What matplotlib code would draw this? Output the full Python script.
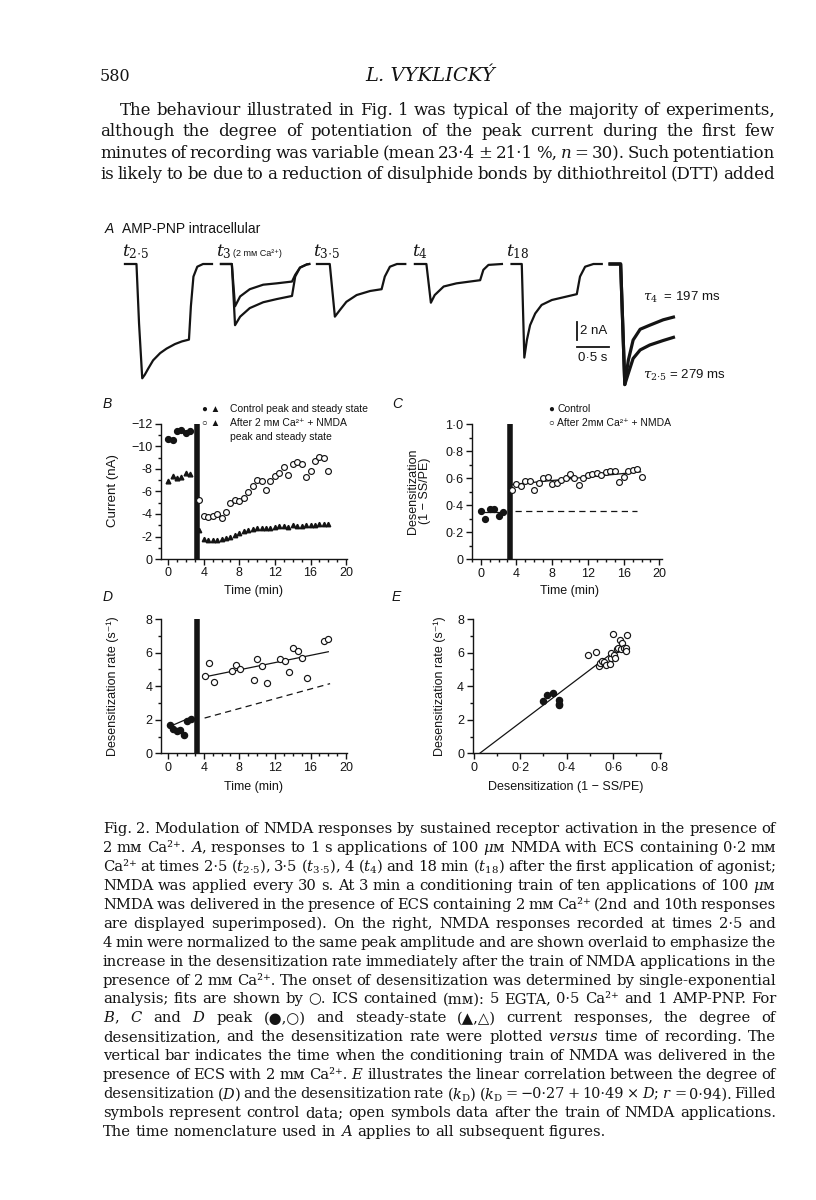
import matplotlib
matplotlib.use("Agg")
import matplotlib.pyplot as plt
from matplotlib.ticker import MultipleLocator, FixedLocator, FixedFormatter

plt.rcParams["font.family"] = ["Liberation Sans", "DejaVu Sans"]
plt.rcParams["mathtext.fontset"] = "dejavuserif"
SERIF = ["DejaVu Serif", "DejaVu Sans"]
INK = "#141414"

# ---------------- data ----------------
# panel A: digitised current traces (time in s along the strip, current in nA)
tr25_t = [0.39, 0.57, 0.61, 0.66, 0.70, 0.755, 0.83, 0.94, 1.04, 1.17, 1.28, 1.39, 1.42, 1.46, 1.52, 1.61, 1.75]
tr25_i = [0, 0, -6.6, -12.7, -12.3, -11.6, -10.7, -9.9, -9.4, -8.9, -8.6, -8.4, -4.7, -1.4, -0.3, 0, 0]
tr3_t = [1.89, 2.06, 2.11, 2.19, 2.34, 2.55, 2.76, 3.00, 3.05, 3.125, 3.23, 3.27]
tr3_10th_i = [0, 0, -4.7, -3.6, -2.8, -2.3, -2.15, -1.95, -1.2, -0.4, -0.05, 0]
tr3_2nd_i = [0, 0, -6.8, -5.85, -4.9, -4.25, -3.9, -3.55, -1.4, -0.4, -0.05, 0]
tr35_t = [3.39, 3.59, 3.67, 3.75, 3.85, 4.01, 4.22, 4.40, 4.45, 4.53, 4.64, 4.77]
tr35_i = [0, 0, -5.85, -5.1, -4.2, -3.45, -3.0, -2.8, -1.4, -0.3, 0, 0]
tr4_t = [4.92, 5.10, 5.17, 5.23, 5.37, 5.57, 5.78, 5.94, 5.99, 6.07, 6.28]
tr4_i = [0, 0, -4.3, -3.45, -2.5, -2.15, -1.95, -1.8, -0.65, -0.1, 0]
tr18_t = [6.43, 6.59, 6.63, 6.67, 6.72, 6.80, 6.90, 7.06, 7.27, 7.45, 7.50, 7.58, 7.71, 7.84]
tr18_i = [0, 0, -10.4, -8.45, -6.8, -5.5, -4.55, -4.0, -3.65, -3.35, -1.4, -0.3, 0, 0]
ov_t = [7.97, 8.135, 8.20, 8.255, 8.33, 8.44, 8.59, 8.80, 8.96]
ov4_i = [0, 0, -13.4, -10.7, -8.45, -7.25, -6.8, -6.2, -5.9]
ov25_i = [0, 0, -13.4, -12.15, -10.5, -9.55, -9.0, -8.5, -8.15]
bar_nA = 2.0
bar_s = 0.5

# panels B-D: time of recording (min)
bar_t = 3.3
t_ctrl = [0, 0.5, 1.0, 1.5, 2.0, 2.5]
t_after = [3.5, 4.0, 4.5, 5.0, 5.5, 6.0, 6.5, 7.0, 7.5, 8.0, 8.5, 9.0, 9.5, 10.0, 10.5,
           11.0, 11.5, 12.0, 12.5, 13.0, 13.5, 14.0, 14.5, 15.0, 15.5, 16.0, 16.5, 17.0, 17.5, 18.0]

# B: current (nA)
b_peak_ctrl = [-10.7, -10.6, -11.4, -11.5, -11.2, -11.4]
b_ss_ctrl = [-6.9, -7.35, -7.2, -7.25, -7.6, -7.55]
b_peak_after = [-5.2, -3.8, -3.7, -3.85, -4.0, -3.65, -4.15, -5.0, -5.25, -5.15, -5.45, -5.95, -6.45, -7.05, -6.9,
                -6.15, -6.9, -7.35, -7.65, -8.15, -7.5, -8.4, -8.6, -8.45, -7.25, -7.85, -8.75, -9.05, -9.0, -7.85]
b_ss_after = [-2.6, -1.75, -1.7, -1.65, -1.7, -1.8, -1.85, -2.0, -2.15, -2.3, -2.45, -2.55, -2.65, -2.75, -2.8,
              -2.8, -2.8, -2.85, -2.9, -2.95, -2.85, -3.0, -2.95, -2.95, -3.05, -3.05, -3.05, -3.1, -3.1, -3.1]

# C: desensitization (1 - SS/PE)
c_ctrl = [0.36, 0.30, 0.37, 0.37, 0.32, 0.35]
c_after = [0.51, 0.555, 0.54, 0.58, 0.58, 0.51, 0.565, 0.605, 0.61, 0.555, 0.565, 0.59, 0.60, 0.63, 0.605,
           0.55, 0.605, 0.625, 0.63, 0.64, 0.625, 0.645, 0.655, 0.655, 0.57, 0.61, 0.655, 0.66, 0.67, 0.61]
c_fit_ctrl_t, c_fit_ctrl_v = [0.0, 2.6], [0.35, 0.35]
c_fit_after_t, c_fit_after_v = [3.6, 17.9], [0.555, 0.648]
c_dash_t, c_dash_v = [3.8, 17.5], [0.36, 0.36]

# D: desensitization rate (s-1)
d_t_ctrl = [0.25, 0.6, 0.95, 1.3, 1.75, 2.15, 2.6]
d_ctrl = [1.7, 1.45, 1.35, 1.4, 1.1, 1.95, 2.05]
d_t_after = [4.1, 4.6, 5.15, 7.15, 7.6, 8.1, 9.65, 10.0, 10.6, 11.1, 12.6, 13.1, 13.6, 14.0, 14.55, 15.0, 15.6, 17.5, 18.0]
d_after = [4.6, 5.35, 4.25, 4.9, 5.25, 5.05, 4.35, 5.6, 5.2, 4.2, 5.6, 5.5, 4.85, 6.25, 6.1, 5.7, 4.5, 6.7, 6.8]
d_fit_ctrl_t, d_fit_ctrl_v = [0.2, 2.6], [1.6, 2.15]
d_fit_after_t, d_fit_after_v = [4.1, 18.0], [4.55, 6.05]
d_dash_t, d_dash_v = [4.1, 18.2], [2.1, 4.15]

# E: rate vs desensitization
e_x_ctrl = [0.30, 0.315, 0.34, 0.365, 0.365, 0.365]
e_y_ctrl = [3.1, 3.45, 3.6, 3.15, 2.95, 2.85]
e_x_after = [0.49, 0.525, 0.54, 0.545, 0.55, 0.56, 0.57, 0.585, 0.59, 0.59, 0.60,
             0.605, 0.61, 0.615, 0.62, 0.63, 0.635, 0.64, 0.645, 0.655, 0.66, 0.655]
e_y_after = [5.85, 6.05, 5.2, 5.4, 5.5, 5.45, 5.25, 5.3, 5.7, 5.95, 7.1,
             5.85, 5.7, 6.2, 6.25, 6.75, 6.2, 6.55, 6.3, 6.3, 7.05, 6.1]
e_fit_x, e_fit_y = [0.026, 0.60], [0.0, 6.02]

# page text
header_num = "580"
header_author = "L. VYKLICKÝ"
body_lines = [
    "The behaviour illustrated in Fig. 1 was typical of the majority of experiments,",
    "although the degree of potentiation of the peak current during the first few",
    "minutes of recording was variable (mean 23·4 ± 21·1 %, $n$ = 30). Such potentiation",
    "is likely to be due to a reduction of disulphide bonds by dithiothreitol (DTT) added",
]
caption_lines = [
    "Fig. 2. Modulation of NMDA responses by sustained receptor activation in the presence of",
    "2 mᴍ Ca²⁺. $A$, responses to 1 s applications of 100 $\\mu$ᴍ NMDA with ECS containing 0·2 mᴍ",
    "Ca²⁺ at times 2·5 ($t_{2{\\cdot}5}$), 3·5 ($t_{3{\\cdot}5}$), 4 ($t_4$) and 18 min ($t_{18}$) after the first application of agonist;",
    "NMDA was applied every 30 s. At 3 min a conditioning train of ten applications of 100 $\\mu$ᴍ",
    "NMDA was delivered in the presence of ECS containing 2 mᴍ Ca²⁺ (2nd and 10th responses",
    "are displayed superimposed). On the right, NMDA responses recorded at times 2·5 and",
    "4 min were normalized to the same peak amplitude and are shown overlaid to emphasize the",
    "increase in the desensitization rate immediately after the train of NMDA applications in the",
    "presence of 2 mᴍ Ca²⁺. The onset of desensitization was determined by single-exponential",
    "analysis; fits are shown by ○. ICS contained (mᴍ): 5 EGTA, 0·5 Ca²⁺ and 1 AMP-PNP. For",
    "$B$, $C$ and $D$ peak (●,○) and steady-state (▲,△) current responses, the degree of",
    "desensitization, and the desensitization rate were plotted $\\mathit{versus}$ time of recording. The",
    "vertical bar indicates the time when the conditioning train of NMDA was delivered in the",
    "presence of ECS with 2 mᴍ Ca²⁺. $E$ illustrates the linear correlation between the degree of",
    "desensitization ($D$) and the desensitization rate ($k_{\\mathrm{D}}$) ($k_{\\mathrm{D}}$ = −0·27 + 10·49 × $D$; $r$ = 0·94). Filled",
    "symbols represent control data; open symbols data after the train of NMDA applications.",
    "The time nomenclature used in $A$ applies to all subsequent figures.",
]

# ---------------- figure ----------------
W, H = 816, 1200
fig = plt.figure(figsize=(W / 100, H / 100), dpi=100)
fig.patch.set_facecolor("white")
renderer = fig.canvas.get_renderer()


def rect(x0, y0, x1, y1):
    return [x0 / W, 1 - y1 / H, (x1 - x0) / W, (y1 - y0) / H]


def ftext(x, y, s, **kw):
    kw.setdefault("color", INK)
    return fig.text(x / W, 1 - y / H, s, **kw)


def put_line(line, x0, x1, yb, size, justify=True):
    words = line.split()
    size_use = size
    while True:
        items = [ftext(0, 0, w, fontsize=size_use, family=SERIF, va="baseline") for w in words]
        widths = [t.get_window_extent(renderer).width for t in items]
        space = size_use * 100 / 72 * 0.3
        if justify and len(words) > 1:
            gap = (x1 - x0 - sum(widths)) / (len(words) - 1)
        else:
            gap = space
        if gap >= 0.6 * space or size_use < size * 0.8:
            break
        for t in items:
            t.remove()
        size_use -= 0.15
    x = x0
    for t, w in zip(items, widths):
        t.set_position((x / W, 1 - yb / H))
        x += w + gap


def style(ax):
    for s in ("top", "right"):
        ax.spines[s].set_visible(False)
    for s in ("left", "bottom"):
        ax.spines[s].set_linewidth(1.0)
        ax.spines[s].set_color(INK)
    ax.tick_params(which="both", direction="out", width=1.0, colors=INK, labelsize=9, pad=2)
    ax.tick_params(which="major", length=4)
    ax.tick_params(which="minor", length=2.5)
    ax.patch.set_alpha(0)


# header and body text
ftext(100, 81, header_num, fontsize=11.5, family=SERIF, va="baseline")
ftext(430, 81, header_author, fontsize=14, family=SERIF, style="italic", va="baseline", ha="center")
for k, line in enumerate(body_lines):
    put_line(line, 120 if k == 0 else 100, 775, [115, 136, 158, 179][k], 12.0)

# ---- panel A ----
axA = fig.add_axes(rect(100, 240, 730, 410))
axA.set_xlim(0, 630 / 64)
axA.set_ylim(-146 / 9, 24 / 9)
axA.axis("off")
for tt, ii, lw in [(tr25_t, tr25_i, 1.6), (tr3_t, tr3_10th_i, 1.6), (tr3_t, tr3_2nd_i, 1.6),
                   (tr35_t, tr35_i, 1.6), (tr4_t, tr4_i, 1.6), (tr18_t, tr18_i, 1.6),
                   (ov_t, ov4_i, 2.3), (ov_t, ov25_i, 2.3)]:
    axA.plot(tt, ii, color=INK, lw=lw, solid_joinstyle="round")
# scale bar
sx, sy = 7.45, -8.45
axA.plot([sx, sx], [sy, sy + bar_nA], color=INK, lw=1.3)
axA.plot([sx, sx + bar_s], [sy - 0.75, sy - 0.75], color=INK, lw=1.3)
axA.text(sx + 0.05, sy + 0.95, "2 nA", fontsize=9.5, va="center", ha="left", color=INK)
axA.text(sx + bar_s / 2, sy - 1.95, "0·5 s", fontsize=9.5, va="center", ha="center", color=INK)

ftext(105, 233, "A", fontsize=10, style="italic", va="baseline")
ftext(122, 233, "AMP-PNP intracellular", fontsize=10, va="baseline")
ftext(122, 256, r"$t_{2{\cdot}5}$", fontsize=12.5, va="baseline")
ftext(216, 256, r"$t_3$", fontsize=12.5, va="baseline")
ftext(233, 256, "(2 mᴍ Ca²⁺)", fontsize=6.5, va="baseline")
ftext(313, 256, r"$t_{3{\cdot}5}$", fontsize=12.5, va="baseline")
ftext(412, 256, r"$t_4$", fontsize=12.5, va="baseline")
ftext(506, 256, r"$t_{18}$", fontsize=12.5, va="baseline")
ftext(643, 297, r"$\tau_4$  = 197 ms", fontsize=9.5, va="center")
ftext(643, 375, r"$\tau_{2{\cdot}5}$ = 279 ms", fontsize=9.5, va="center")

# ---- panel B ----
axB = fig.add_axes(rect(161, 424, 347, 559))
style(axB)
axB.plot([bar_t, bar_t], [0, -12], color=INK, lw=4, solid_capstyle="butt")
axB.plot(t_ctrl, b_peak_ctrl, "o", ms=4.2, color=INK, clip_on=False)
axB.plot(t_ctrl, b_ss_ctrl, "^", ms=3.4, color=INK, clip_on=False)
axB.plot(t_after, b_peak_after, "o", ms=4.2, mfc="white", mec=INK, mew=0.85, clip_on=False)
axB.plot(t_after, b_ss_after, "^", ms=3.2, color=INK, clip_on=False)
axB.set_xlim(-0.8, 20.1)
axB.set_ylim(0, -12)
axB.xaxis.set_major_locator(FixedLocator([0, 4, 8, 12, 16, 20]))
axB.xaxis.set_minor_locator(MultipleLocator(1))
axB.yaxis.set_major_locator(FixedLocator([0, -2, -4, -6, -8, -10, -12]))
axB.yaxis.set_major_formatter(FixedFormatter(["0", "-2", "-4", "-6", "-8", "−10", "−12"]))
axB.yaxis.set_minor_locator(MultipleLocator(1))
ftext(103, 408, "B", fontsize=10, style="italic", va="baseline")
ftext(254, 591, "Time (min)", fontsize=9, ha="center", va="center")
ftext(113, 491, "Current (nA)", fontsize=9.5, ha="center", va="center", rotation=90)
ftext(202, 412, "● ▲", fontsize=7, va="baseline")
ftext(202, 426, "○ ▲", fontsize=7, va="baseline")
ftext(230, 412, "Control peak and steady state", fontsize=7.5, va="baseline")
ftext(230, 426, "After 2 mᴍ Ca²⁺ + NMDA", fontsize=7.5, va="baseline")
ftext(230, 440, "peak and steady state", fontsize=7.5, va="baseline")

# ---- panel C ----
axC = fig.add_axes(rect(471.7, 424.3, 661.7, 559.3))
style(axC)
axC.plot([bar_t, bar_t], [0, 1.0], color=INK, lw=4, solid_capstyle="butt")
axC.plot(c_fit_ctrl_t, c_fit_ctrl_v, color=INK, lw=0.9)
axC.plot(c_fit_after_t, c_fit_after_v, color=INK, lw=0.9)
axC.plot(c_dash_t, c_dash_v, color=INK, lw=0.9, ls=(0, (5, 3.5)))
axC.plot(t_ctrl, c_ctrl, "o", ms=4.2, color=INK, clip_on=False)
axC.plot(t_after, c_after, "o", ms=4.2, mfc="white", mec=INK, mew=0.85, clip_on=False)
axC.set_xlim(-1.0, 20.26)
axC.set_ylim(0, 1.0)
axC.xaxis.set_major_locator(FixedLocator([0, 4, 8, 12, 16, 20]))
axC.xaxis.set_minor_locator(MultipleLocator(1))
axC.yaxis.set_major_locator(FixedLocator([0, 0.2, 0.4, 0.6, 0.8, 1.0]))
axC.yaxis.set_major_formatter(FixedFormatter(["0", "0·2", "0·4", "0·6", "0·8", "1·0"]))
axC.yaxis.set_minor_locator(MultipleLocator(0.1))
ftext(392, 408, "C", fontsize=10, style="italic", va="baseline")
ftext(570, 591, "Time (min)", fontsize=9, ha="center", va="center")
ftext(419, 491, "Desensitization\n(1 − SS/PE)", fontsize=9, ha="center", va="center",
      rotation=90, linespacing=0.9, multialignment="center")
ftext(548, 412, "●", fontsize=7, va="baseline")
ftext(548, 426, "○", fontsize=7, va="baseline")
ftext(557, 412, "Control", fontsize=7.5, va="baseline")
ftext(557, 426, "After 2mᴍ Ca²⁺ + NMDA", fontsize=7.5, va="baseline")

# ---- panel D ----
axD = fig.add_axes(rect(161, 619, 347, 753.3))
style(axD)
axD.plot([bar_t, bar_t], [0, 8], color=INK, lw=4, solid_capstyle="butt")
axD.plot(d_fit_ctrl_t, d_fit_ctrl_v, color=INK, lw=0.9)
axD.plot(d_fit_after_t, d_fit_after_v, color=INK, lw=0.9)
axD.plot(d_dash_t, d_dash_v, color=INK, lw=0.9, ls=(0, (5, 3.5)))
axD.plot(d_t_ctrl, d_ctrl, "o", ms=4.4, color=INK, clip_on=False)
axD.plot(d_t_after, d_after, "o", ms=4.4, mfc="white", mec=INK, mew=0.85, clip_on=False)
axD.set_xlim(-0.8, 20.1)
axD.set_ylim(0, 8)
axD.xaxis.set_major_locator(FixedLocator([0, 4, 8, 12, 16, 20]))
axD.xaxis.set_minor_locator(MultipleLocator(1))
axD.yaxis.set_major_locator(FixedLocator([0, 2, 4, 6, 8]))
axD.yaxis.set_minor_locator(MultipleLocator(1))
ftext(103, 601, "D", fontsize=10, style="italic", va="baseline")
ftext(254, 787, "Time (min)", fontsize=9, ha="center", va="center")
ftext(113, 686, "Desensitization rate (s⁻¹)", fontsize=9, ha="center", va="center", rotation=90)

# ---- panel E ----
axE = fig.add_axes(rect(472.5, 619, 660.8, 753.3))
style(axE)
axE.plot(e_fit_x, e_fit_y, color=INK, lw=0.9)
axE.plot(e_x_ctrl, e_y_ctrl, "o", ms=4.4, color=INK, clip_on=False)
axE.plot(e_x_after, e_y_after, "o", ms=4.4, mfc="white", mec=INK, mew=0.85, clip_on=False)
axE.set_xlim(-0.005, 0.805)
axE.set_ylim(0, 8)
axE.xaxis.set_major_locator(FixedLocator([0, 0.2, 0.4, 0.6, 0.8]))
axE.xaxis.set_major_formatter(FixedFormatter(["0", "0·2", "0·4", "0·6", "0·8"]))
axE.xaxis.set_minor_locator(MultipleLocator(0.1))
axE.yaxis.set_major_locator(FixedLocator([0, 2, 4, 6, 8]))
axE.yaxis.set_minor_locator(MultipleLocator(1))
ftext(392, 601, "E", fontsize=10, style="italic", va="baseline")
ftext(566, 787, "Desensitization (1 − SS/PE)", fontsize=9, ha="center", va="center")
ftext(440, 686, "Desensitization rate (s⁻¹)", fontsize=9, ha="center", va="center", rotation=90)

# caption
for k, line in enumerate(caption_lines):
    put_line(line, 103, 776, 833 + 18.94 * k, 10.6, justify=(k < len(caption_lines) - 1))

fig.savefig("out.png", dpi=100, facecolor="white")
